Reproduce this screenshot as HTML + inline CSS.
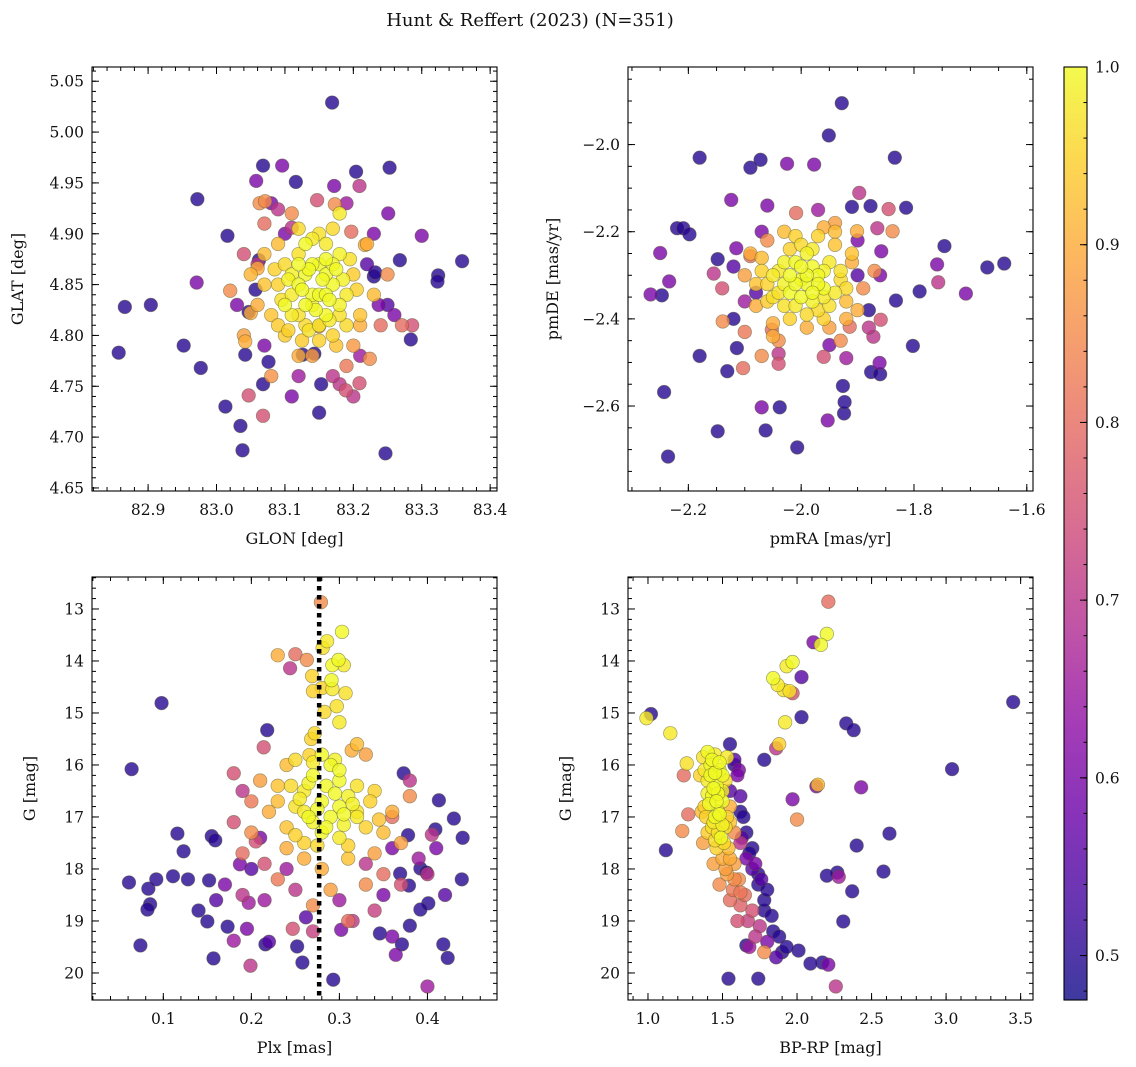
<!DOCTYPE html>
<html><head><meta charset="utf-8"><style>
html,body{margin:0;padding:0;background:#fff;}
svg{display:block;font-family:"DejaVu Serif","Liberation Serif",serif;}
</style></head><body>
<svg id="fig" width="1136" height="1067" viewBox="0 0 1136 1067" xmlns="http://www.w3.org/2000/svg">
<text x="530" y="26" font-size="18" text-anchor="middle" fill="#111">Hunt &amp; Reffert (2023) (N=351)</text>
</svg>
<script>
// ---- data (x, y, membership probability) ----
const glonGlat = [
[83.169,5.029,.5],[82.866,4.828,.5],[82.904,4.830,.5],[82.857,4.783,.5],[82.952,4.790,.5],[82.977,4.768,.5],[82.971,4.852,.6],[82.972,4.934,.5],[83.016,4.898,.5],[83.013,4.730,.5],[83.035,4.711,.5],[83.038,4.687,.5],[83.068,4.967,.5],[83.096,4.967,.6],[83.058,4.952,.6],[83.116,4.951,.5],[83.204,4.961,.5],[83.253,4.965,.5],[83.209,4.947,.7],[83.172,4.947,.6],[83.251,4.920,.6],[83.300,4.898,.6],[83.359,4.873,.5],[83.324,4.859,.5],[83.323,4.853,.5],[83.247,4.684,.5],[83.150,4.724,.5],[83.153,4.752,.5],[83.068,4.721,.75],[83.047,4.741,.75],[83.268,4.874,.5],[83.260,4.820,.6],[83.284,4.796,.5],[83.286,4.810,.75],[83.271,4.810,.8],[83.209,4.753,.75],[83.189,4.746,.75],[83.180,4.752,.7],[83.062,4.874,.5],[83.057,4.845,.5],[83.042,4.781,.5],[83.068,4.752,.5],[83.076,4.774,.5],[83.047,4.823,.5],[83.126,4.781,.5],[83.143,4.782,.5],[83.060,4.866,.9],[83.050,4.822,.9],[83.020,4.844,.85],[83.042,4.794,.9],[83.230,4.858,.5],[83.232,4.862,.5],[83.237,4.830,.6],[83.217,4.889,.9],[83.063,4.930,.85],[83.071,4.932,.85],[83.090,4.924,.7],[83.147,4.933,.75],[83.173,4.929,.85],[83.197,4.902,.8],[83.110,4.906,.7],[83.224,4.777,.85],[83.150,4.809,.85],
[83.10,4.90,.6],[83.22,4.87,.55],[83.07,4.79,.6],[83.21,4.78,.65],[83.06,4.87,.7],[83.19,4.93,.65],[83.08,4.93,.6],[83.25,4.83,.55],[83.03,4.83,.6],[83.12,4.76,.65],[83.17,4.76,.7],[83.23,4.90,.6],[83.04,4.88,.75],[83.20,4.74,.7],[83.11,4.74,.6],
[83.13,4.86,1],[83.15,4.87,1],[83.17,4.85,1],[83.11,4.84,.98],[83.14,4.83,.99],[83.16,4.82,1],[83.12,4.88,.97],[83.18,4.88,.99],[83.10,4.87,.96],[83.09,4.85,.95],[83.19,4.84,.98],[83.15,4.90,.97],[83.13,4.81,.96],[83.17,4.80,.95],[83.08,4.82,.93],[83.20,4.86,.94],[83.12,4.85,1],[83.16,4.86,1],[83.14,4.84,1],[83.11,4.86,.99],[83.18,4.92,.98],[83.07,4.88,.92],[83.06,4.83,.9],[83.21,4.82,.93],[83.22,4.89,.9],[83.10,4.80,.94],[83.19,4.81,.96],[83.13,4.89,1],[83.16,4.89,.98],[83.09,4.89,.92],[83.23,4.84,.92],[83.05,4.86,.91],[83.12,4.78,.9],[83.14,4.78,.88],[83.17,4.87,1],[83.15,4.84,1],[83.20,4.79,.87],[83.04,4.80,.88],[83.08,4.76,.86],[83.25,4.86,.85],[83.24,4.81,.8],[83.11,4.92,.85],[83.07,4.91,.8],[83.19,4.77,.82],[83.10,4.83,1],[83.18,4.83,.99],[83.14,4.87,1],[83.12,4.82,.97],[83.16,4.84,1],
[83.125,4.845,1],[83.135,4.865,1],[83.155,4.855,1],[83.165,4.835,1],[83.105,4.855,.99],[83.145,4.825,1],[83.175,4.865,1],[83.12,4.87,1],[83.16,4.875,1],[83.13,4.83,1],[83.15,4.81,.98],[83.11,4.82,.98],[83.185,4.855,.99],[83.095,4.835,.97],[83.14,4.895,.98],[83.12,4.905,.96],[83.17,4.905,.96],[83.195,4.875,.97],[83.085,4.865,.95],[83.205,4.845,.95],[83.165,4.815,.98],[83.135,4.805,.97],[83.105,4.805,.95],[83.175,4.79,.93],[83.09,4.81,.94],[83.21,4.81,.9],[83.07,4.85,.93],[83.15,4.795,.95],[83.125,4.795,.94],[83.18,4.82,.97]
];
const pmraPmde = [
[-1.928,-1.905,.5],[-1.951,-1.979,.5],[-2.180,-2.030,.5],[-2.090,-2.053,.5],[-2.072,-2.035,.5],[-1.834,-2.030,.5],[-1.977,-2.046,.6],[-2.025,-2.044,.6],[-2.124,-2.127,.6],[-2.220,-2.192,.5],[-2.209,-2.192,.5],[-2.198,-2.206,.5],[-2.250,-2.249,.6],[-2.234,-2.314,.6],[-2.247,-2.346,.5],[-2.267,-2.344,.6],[-2.180,-2.485,.5],[-2.243,-2.568,.5],[-2.236,-2.716,.5],[-2.148,-2.658,.5],[-2.063,-2.656,.5],[-2.007,-2.695,.5],[-2.038,-2.603,.5],[-2.070,-2.603,.6],[-1.953,-2.633,.6],[-1.924,-2.617,.5],[-1.923,-2.591,.5],[-1.926,-2.554,.5],[-1.876,-2.522,.5],[-1.860,-2.527,.5],[-1.861,-2.501,.6],[-1.802,-2.462,.5],[-1.670,-2.282,.5],[-1.640,-2.273,.5],[-1.746,-2.233,.5],[-1.708,-2.342,.6],[-1.759,-2.275,.6],[-1.757,-2.316,.7],[-1.790,-2.337,.5],[-1.814,-2.145,.5],[-1.877,-2.141,.5],[-1.910,-2.143,.5],[-1.865,-2.192,.7],[-1.845,-2.148,.75],[-1.838,-2.199,.85],[-1.832,-2.358,.5],[-1.859,-2.402,.75],[-1.872,-2.441,.7],[-2.131,-2.520,.5],[-2.114,-2.467,.5],[-2.103,-2.513,.8],[-2.052,-2.425,.8],[-2.070,-2.485,.85],[-2.148,-2.263,.5],[-2.155,-2.296,.7],[-2.090,-2.256,.8],[-2.115,-2.238,.6],[-2.009,-2.157,.8],[-1.897,-2.111,.7],[-1.960,-2.487,.75],[-2.040,-2.503,.75],[-2.139,-2.406,.85],[-1.901,-2.199,.9],[-1.858,-2.245,.6],[-1.914,-2.418,.8],[-2.08,-2.34,.55],[-1.90,-2.30,.55],[-2.12,-2.40,.5],[-1.88,-2.38,.5],
[-2.07,-2.20,.6],[-1.90,-2.22,.6],[-2.10,-2.36,.65],[-1.88,-2.42,.7],[-2.12,-2.28,.55],[-1.86,-2.30,.6],[-2.04,-2.48,.7],[-1.95,-2.46,.6],[-2.14,-2.33,.75],[-1.97,-2.15,.65],[-2.06,-2.14,.6],[-1.92,-2.49,.65],
[-2.00,-2.31,1],[-1.98,-2.28,1],[-2.02,-2.34,1],[-1.96,-2.33,1],[-2.04,-2.29,.98],[-1.99,-2.25,.99],[-1.95,-2.27,.98],[-2.03,-2.37,.97],[-1.97,-2.38,.96],[-2.06,-2.32,.95],[-1.93,-2.31,.96],[-2.01,-2.21,.95],[-1.94,-2.23,.93],[-2.07,-2.26,.92],[-1.92,-2.36,.92],[-2.05,-2.41,.9],[-1.99,-2.42,.9],[-1.95,-2.42,.88],[-2.08,-2.37,.9],[-1.91,-2.27,.9],[-2.00,-2.35,1],[-1.97,-2.30,1],[-2.01,-2.27,1],[-2.03,-2.32,.99],[-1.98,-2.36,.99],[-1.96,-2.19,.9],[-2.04,-2.45,.85],[-1.93,-2.45,.85],[-2.10,-2.30,.88],[-1.89,-2.33,.85],[-1.94,-2.18,.88],[-2.02,-2.24,.95],[-1.99,-2.32,1],[-2.05,-2.35,.97],[-1.96,-2.35,.98],[-2.10,-2.43,.82],[-1.87,-2.29,.85],[-2.06,-2.22,.85],[-1.92,-2.40,.9],
[-1.99,-2.30,1],[-2.01,-2.32,1],[-1.97,-2.32,1],[-2.00,-2.28,1],[-1.98,-2.34,1],[-2.02,-2.30,1],[-1.96,-2.29,.99],[-2.03,-2.27,.99],[-1.94,-2.34,.98],[-2.05,-2.30,.98],[-1.98,-2.24,.98],[-2.01,-2.37,.98],[-1.95,-2.37,.97],[-2.04,-2.34,.97],[-1.93,-2.29,.97],[-2.07,-2.29,.95],[-1.97,-2.21,.95],[-2.02,-2.40,.95],[-1.99,-2.39,.96],[-1.92,-2.33,.96],[-2.06,-2.36,.94],[-2.00,-2.23,.96],[-1.96,-2.40,.95],[-1.91,-2.25,.93],[-2.08,-2.32,.93],[-2.03,-2.20,.92],[-1.94,-2.20,.92],[-2.09,-2.25,.9],[-1.90,-2.38,.9],[-2.05,-2.44,.9]
];
const plxG = [
[0.098,14.81,.5],[0.064,16.08,.5],[0.061,18.26,.5],[0.074,19.47,.5],[0.083,18.38,.5],[0.085,18.68,.5],[0.082,18.78,.5],[0.092,18.20,.5],[0.111,18.14,.5],[0.128,18.20,.5],[0.116,17.32,.5],[0.123,17.66,.5],[0.155,17.37,.5],[0.152,18.22,.5],[0.157,19.72,.5],[0.150,19.01,.5],[0.159,17.45,.5],[0.173,19.11,.5],[0.218,15.33,.5],[0.216,19.45,.5],[0.252,19.49,.5],[0.258,19.80,.5],[0.293,20.13,.5],[0.346,19.24,.5],[0.373,16.16,.5],[0.380,19.09,.5],[0.371,19.45,.5],[0.401,18.66,.5],[0.418,19.45,.5],[0.409,17.24,.5],[0.439,18.20,.5],[0.430,17.03,.5],[0.413,16.68,.5],[0.378,17.35,.5],[0.369,18.09,.5],[0.379,18.32,.5],[0.392,17.99,.5],[0.423,19.71,.5],[0.392,18.78,.5],[0.399,18.07,.5],[0.405,17.34,.7],[0.400,20.26,.65],[0.364,19.65,.6],[0.262,18.93,.55],[0.302,19.17,.6],[0.315,19.0,.7],[0.197,18.65,.65],[0.195,19.15,.6],[0.199,19.86,.7],[0.180,19.38,.65],[0.247,19.15,.75],[0.205,17.47,.75],[0.187,17.91,.6],[0.244,14.14,.7],[0.263,13.98,.85],[0.279,12.87,.85],[0.250,13.87,.8],[0.180,16.16,.75],[0.214,15.66,.75],[0.230,13.89,.9],
[0.21,17.4,.6],[0.36,17.6,.6],[0.24,18.0,.65],[0.33,17.9,.7],[0.19,16.5,.7],[0.38,16.3,.7],[0.20,18.0,.55],[0.35,18.5,.6],[0.25,18.4,.7],[0.30,18.6,.65],[0.16,18.6,.55],[0.42,18.5,.55],[0.14,18.8,.5],[0.44,17.4,.5],
[0.303,13.44,1],[0.286,13.62,.98],[0.292,14.08,1],[0.291,14.37,1],[0.292,14.54,.98],[0.307,14.62,.97],[0.280,14.52,.95],[0.270,14.58,.95],[0.300,15.18,.98],[0.299,13.98,1],[0.281,13.75,.97],[0.269,14.29,.95],[0.283,14.98,.96],[0.314,15.72,.9],[0.268,15.5,.95],[0.272,15.39,.96],[0.297,14.87,.97],[0.305,14.08,.98],[0.266,15.81,.95],
[0.28,15.8,1],[0.29,16.0,1],[0.27,16.2,1],[0.30,16.3,1],[0.26,16.5,.98],[0.31,16.6,.99],[0.28,16.7,1],[0.25,16.8,.97],[0.32,16.9,.97],[0.29,17.0,1],[0.27,17.1,.99],[0.33,17.2,.95],[0.24,17.2,.93],[0.30,17.4,.98],[0.26,17.5,.95],[0.35,17.3,.92],[0.22,16.9,.9],[0.23,16.4,.93],[0.34,16.5,.95],[0.36,16.9,.9],[0.31,17.8,.93],[0.28,18.0,.9],[0.25,15.9,.96],[0.32,15.6,.92],[0.24,16.0,.92],[0.21,16.3,.88],[0.37,17.5,.88],[0.20,17.3,.85],[0.29,18.4,.88],[0.33,18.3,.85],[0.27,18.7,.85],[0.31,19.0,.8],[0.19,17.7,.8],[0.38,16.6,.85],[0.35,18.1,.8],[0.23,18.2,.82],[0.26,17.8,.9],[0.30,16.1,1],[0.28,17.3,1],[0.32,17.0,.98],[0.26,16.9,.98],[0.30,16.8,1],[0.24,17.6,.9],[0.34,17.7,.88],[0.215,17.9,.75],[0.19,18.5,.7],[0.40,18.1,.7],[0.37,18.3,.75],[0.39,17.8,.65],[0.215,18.6,.65],[0.36,17.0,.8],[0.33,15.8,.88],[0.20,16.7,.82],[0.18,17.1,.75],[0.27,19.2,.72],[0.34,18.8,.72],[0.17,18.3,.6],[0.41,17.6,.6],[0.22,19.4,.55],[0.36,19.3,.6],
[0.285,16.4,1],[0.295,16.55,1],[0.275,16.85,1],[0.305,16.95,1],[0.265,17.0,1],[0.315,16.75,.99],[0.255,16.65,.98],[0.305,17.15,.99],[0.285,17.2,1],[0.265,16.35,.99],[0.32,16.4,.97],[0.245,16.4,.96],[0.335,16.7,.95],[0.275,17.55,.96],[0.31,17.55,.95],[0.295,15.9,.99],[0.27,15.95,.98],[0.25,17.35,.95],[0.345,17.05,.93],[0.23,16.7,.92]
];
const colorG = [
[1.02,15.02,.5],[1.12,17.64,.5],[3.45,14.79,.5],[3.04,16.08,.5],[2.33,15.2,.5],[2.38,15.33,.5],[2.43,16.43,.6],[2.13,16.41,.6],[2.14,16.38,.92],[1.97,16.66,.6],[2.00,17.05,.85],[1.78,15.9,.5],[1.61,16.1,.6],[1.88,15.6,.95],[1.86,15.68,.7],[2.03,15.08,.5],[2.11,13.64,.6],[2.21,12.86,.8],[2.20,13.48,1],[2.16,13.69,1],[1.97,14.02,1],[1.93,14.1,.98],[2.03,14.31,.55],[1.84,14.33,1],[1.87,14.46,.98],[1.91,14.56,.97],[1.97,14.62,.75],[1.95,14.58,.97],[1.92,15.18,.98],[2.40,17.55,.5],[2.27,18.07,.5],[2.37,18.43,.5],[2.20,18.13,.5],[2.28,18.15,.65],[2.62,17.32,.5],[2.58,18.05,.5],[2.31,19.01,.5],[2.17,19.8,.5],[2.26,20.26,.7],[2.09,19.82,.5],[2.01,19.57,.5],[2.21,19.84,.6],[1.74,20.11,.5],[1.54,20.11,.5],[1.66,19.47,.5],
[0.99,15.1,.98],[1.15,15.39,.98],[1.26,15.97,.97],[1.24,16.2,.8],[1.27,16.95,.8],[1.23,17.27,.85],
[1.58,16.0,.5],[1.62,16.9,.5],[1.70,17.6,.5],[1.74,18.1,.5],[1.78,18.8,.5],[1.84,19.2,.5],[1.90,19.6,.5],[1.63,17.4,.55],[1.55,16.5,.55],
[1.40,15.75,1],[1.45,15.8,.98],[1.42,16.0,1],[1.48,16.1,1],[1.40,16.3,.98],[1.46,16.4,1],[1.52,16.3,.96],[1.43,16.6,1],[1.50,16.7,1],[1.38,16.8,.95],[1.47,16.9,1],[1.55,16.8,.9],[1.44,17.1,.98],[1.52,17.2,.97],[1.40,17.3,.94],[1.49,17.4,1],[1.58,17.3,.85],[1.46,17.6,.95],[1.54,17.6,.92],[1.62,17.5,.7],[1.50,17.8,.9],[1.58,17.9,.88],[1.66,17.8,.6],[1.53,18.1,.88],[1.61,18.2,.85],[1.70,18.0,.55],[1.57,18.4,.82],[1.65,18.5,.8],[1.74,18.3,.5],[1.62,18.7,.78],[1.70,18.8,.75],[1.78,18.6,.5],[1.67,19.0,.72],[1.75,19.1,.7],[1.83,18.9,.5],[1.72,19.3,.7],[1.80,19.4,.6],[1.88,19.3,.5],[1.78,19.6,.85],[1.86,19.7,.55],[1.93,19.5,.5],[1.55,15.6,.5],[1.58,15.9,.55],[1.60,16.2,.6],[1.62,16.6,.55],[1.64,17.0,.5],[1.66,17.3,.5],[1.68,17.7,.5],[1.72,17.9,.6],[1.76,18.2,.55],[1.80,18.4,.5],[1.35,16.2,.95],[1.36,16.9,.92],[1.37,17.5,.88],[1.44,17.9,.88],[1.48,18.3,.85],[1.55,18.6,.8],[1.60,19.0,.75],[1.68,19.5,.65],[1.43,15.9,1],[1.47,16.55,1],[1.45,17.0,1],[1.50,16.2,1],[1.53,17.0,.95],[1.41,16.75,1],[1.53,15.85,.98],[1.37,15.85,.97],
[1.42,16.2,1],[1.44,16.45,1],[1.46,16.7,1],[1.48,16.95,1],[1.50,17.15,.99],[1.45,16.15,1],[1.40,16.55,.99],[1.38,16.1,.98],[1.43,17.2,.97],[1.47,17.3,.97],[1.51,17.5,.96],[1.45,17.45,.96],[1.55,17.8,.9],[1.52,18.0,.88],[1.48,15.95,1],[1.50,16.5,.99],[1.55,17.1,.93],[1.39,17.0,.95],[1.58,18.2,.85],[1.62,18.45,.82]
];
const plxCut = [0.277];
const cbarTicks = [0.5,0.6,0.7,0.8,0.9,1.0];

const NS = "http://www.w3.org/2000/svg";
const svg = document.getElementById('fig');
function el(tag, attrs, parent){
  const e = document.createElementNS(NS, tag);
  for (const k in attrs) e.setAttribute(k, attrs[k]);
  (parent||svg).appendChild(e);
  return e;
}
const stops = ["#0d0887","#41049d","#6a00a8","#8f0da4","#b12a90","#cc4778","#e16462","#f2844b","#fca636","#fcce25","#f0f921"];
function hex(h){return [parseInt(h.slice(1,3),16),parseInt(h.slice(3,5),16),parseInt(h.slice(5,7),16)];}
const VMIN=0.475, VMAX=1.0;
function plasma(v){
  let t=(v-VMIN)/(VMAX-VMIN); t=Math.max(0,Math.min(1,t));
  const f=t*10, i=Math.min(9,Math.floor(f)), r=f-i;
  const a=hex(stops[i]), b=hex(stops[i+1]);
  return 'rgb('+a.map((c,j)=>Math.round(c+(b[j]-c)*r)).join(',')+')';
}
function fmt(v,d){ const s=Math.abs(v).toFixed(d); return (v<-1e-9?'\u2212':'')+s; }

function panel(o){
  const g = el('g',{});
  
  
  const sx = v => o.L + (v-o.x0)/(o.x1-o.x0)*o.W;
  const sy = v => o.T + (v-o.y0)/(o.y1-o.y0)*o.H;
  const pts = o.data.slice().sort((a,b)=>a[2]-b[2]);
  const cp = el('clipPath',{id:o.name+'-clip'},g);
  el('rect',{x:o.L,y:o.T,width:o.W,height:o.H},cp);
  const pg = el('g',{},g);
  
  
  pg.setAttribute('clip-path','url(#'+o.name+'-clip)');
  pts.forEach(p=>{
    const c = el('circle',{cx:sx(p[0]),cy:sy(p[1]),r:6.8,fill:plasma(p[2]),'fill-opacity':0.8,stroke:'rgba(90,90,50,0.55)','stroke-width':0.7},pg);
    
    
  });
  if (o.vline){
    o.vline.forEach(v=>{
      const l = el('line',{x1:sx(v),x2:sx(v),y1:o.T,y2:o.T+o.H,stroke:'#000','stroke-width':4.5,'stroke-dasharray':'4.5,4.5'},g);
      
      
    });
  }
  const fr = el('rect',{x:o.L,y:o.T,width:o.W,height:o.H,fill:'none',stroke:'#000','stroke-width':1.1},g);
  
  
  const tg = el('g',{stroke:'#000','stroke-width':1},g);
  function ticksX(step,len,label){
    const n0=Math.ceil(Math.min(o.x0,o.x1)/step-1e-6), n1=Math.floor(Math.max(o.x0,o.x1)/step+1e-6);
    for(let n=n0;n<=n1;n++){
      const v=n*step, x=sx(v);
      el('line',{x1:x,x2:x,y1:o.T+o.H,y2:o.T+o.H-len},tg);
      el('line',{x1:x,x2:x,y1:o.T,y2:o.T+len},tg);
      if(label){
        const t=el('text',{x:x,y:o.T+o.H+24,'font-size':15.5,'text-anchor':'middle',fill:'#111',stroke:'none'},g);
        t.textContent=fmt(v,o.xd);
        
        
      }
    }
  }
  function ticksY(step,len,label){
    const lo=Math.min(o.y0,o.y1), hi=Math.max(o.y0,o.y1);
    const n0=Math.ceil(lo/step-1e-6), n1=Math.floor(hi/step+1e-6);
    for(let n=n0;n<=n1;n++){
      const v=n*step, y=sy(v);
      el('line',{x1:o.L,x2:o.L+len,y1:y,y2:y},tg);
      el('line',{x1:o.L+o.W,x2:o.L+o.W-len,y1:y,y2:y},tg);
      if(label){
        const t=el('text',{x:o.L-8,y:y+5.5,'font-size':15.5,'text-anchor':'end',fill:'#111',stroke:'none'},g);
        t.textContent=fmt(v,o.yd);
        
        
      }
    }
  }
  ticksX(o.xmaj,7,true); ticksX(o.xmin,4,false);
  ticksY(o.ymaj,7,true); ticksY(o.ymin,4,false);
  const xl=el('text',{x:o.L+o.W/2,y:o.T+o.H+53,'font-size':16,'text-anchor':'middle',fill:'#111'},g);
  xl.textContent=o.xlabel;
  
  
  const yx=o.L-o.ylabOff, yy=o.T+o.H/2;
  const yl=el('text',{x:yx,y:yy,'font-size':16,'text-anchor':'middle',fill:'#111',transform:'rotate(-90 '+yx+' '+yy+')'},g);
  yl.textContent=o.ylabel;
  
  
}

panel({name:'glon-glat-panel',data:glonGlat,L:92,T:67,W:405,H:424,x0:82.818,x1:83.410,y0:5.064,y1:4.647,xmaj:0.1,xmin:0.02,ymaj:0.05,ymin:0.01,xd:1,yd:2,xlabel:'GLON [deg]',ylabel:'GLAT [deg]',ylabOff:69});
panel({name:'pm-panel',data:pmraPmde,L:628,T:67,W:405,H:424,x0:-2.307,x1:-1.589,y0:-1.822,y1:-2.795,xmaj:0.2,xmin:0.05,ymaj:0.2,ymin:0.05,xd:1,yd:1,xlabel:'pmRA [mas/yr]',ylabel:'pmDE [mas/yr]',ylabOff:70});
panel({name:'plx-g-panel',data:plxG,L:92,T:577,W:405,H:423,x0:0.019,x1:0.479,y0:12.385,y1:20.52,xmaj:0.1,xmin:0.02,ymaj:1,ymin:0.2,xd:1,yd:0,xlabel:'Plx [mas]',ylabel:'G [mag]',ylabOff:57,vline:plxCut});
panel({name:'cmd-panel',data:colorG,L:628,T:577,W:405,H:423,x0:0.866,x1:3.583,y0:12.385,y1:20.52,xmaj:0.5,xmin:0.1,ymaj:1,ymin:0.2,xd:1,yd:0,xlabel:'BP-RP [mag]',ylabel:'G [mag]',ylabOff:57});

(function(){
  const L=1064,T=67,W=23,H=933;
  const cg=el('g',{});
  
  
  const defs=el('defs',{},cg);
  const gr=el('linearGradient',{id:'cbg',x1:0,y1:1,x2:0,y2:0},defs);
  for(let i=0;i<=20;i++){const v=VMIN+(VMAX-VMIN)*i/20; el('stop',{offset:i/20,'stop-color':plasma(v),'stop-opacity':0.8},gr);}
  el('rect',{x:L,y:T,width:W,height:H,fill:'url(#cbg)',stroke:'#000','stroke-width':1.1},cg);
  const sy=v=>T+H-(v-VMIN)/(VMAX-VMIN)*H;
  for(let n=Math.ceil(VMIN/0.02);n<=50;n++){const y=sy(n*0.02); el('line',{x1:L+W,x2:L+W-3.5,y1:y,y2:y,stroke:'#000'},cg);}
  cbarTicks.forEach(v=>{
    const y=sy(v);
    el('line',{x1:L+W,x2:L+W-7,y1:y,y2:y,stroke:'#000'},cg);
    const t=el('text',{x:L+W+8,y:y+5.5,'font-size':15.5,fill:'#111'},cg);
    t.textContent=v.toFixed(1);
    
    
  });
})();
</script>
</body></html>
